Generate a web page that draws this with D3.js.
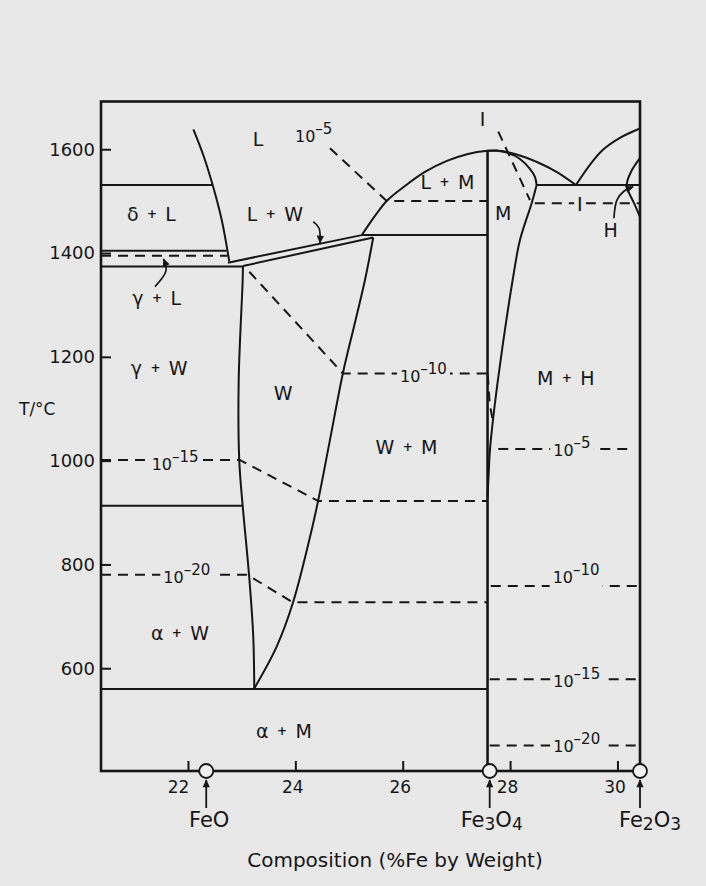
<!DOCTYPE html>
<html>
<head>
<meta charset="utf-8">
<script src="https://cdn.jsdelivr.net/npm/d3@7"></script>
<style>
  body { margin: 0; background: #e8e8e8; }
  svg { display: block; }
  text { font-family: "DejaVu Sans", "Liberation Sans", sans-serif; fill: #161616; }
</style>
</head>
<body>
<svg id="chart" width="706" height="886"></svg>
<script>
// axis ticks
var X_TICKS = [22, 24, 26, 28, 30]
var Y_TICKS = [600, 800, 1000, 1200, 1400, 1600]

// compounds marked under the axis (composition)
var COMPOUNDS = ["FeO", "Fe3O4", "Fe2O3"]
var COMPOUND_AT = [22.34, 27.62, 30.42]

// phase boundaries, [composition, T/°C]
var liquidusFeO = [[22.10, 1638.5], [22.285, 1589], [22.46, 1531], [22.628, 1464], [22.77, 1383.4]]
var deltaTop = [[20.38, 1531], [22.46, 1531]]
var gammaLTop = [[20.38, 1404.6], [22.72, 1404.6]]
var gammaLBottom = [[20.38, 1374], [23.024, 1374]]
var lwUpper = [[22.745, 1381.5], [25.259, 1435]]
var lwLower = [[23.024, 1375], [25.451, 1430]]
var wLeft = [[23.024, 1375], [23.019, 1348], [22.945, 1155.5], [22.955, 1001], [23.019, 913], [23.043, 886], [23.142, 774], [23.216, 661], [23.235, 561]]
var wRight = [[25.451, 1430], [25.297, 1348], [25.092, 1258], [24.887, 1169], [24.645, 1040], [24.427, 924], [24.304, 866.5], [23.961, 728], [23.652, 641.6], [23.235, 561]]
var gammaAlpha = [[20.38, 913], [23.019, 913]]
var eutectoid = [[20.38, 560], [27.58, 560]]
var wmTop = [[25.259, 1435], [27.58, 1435]]
var magnetite = [[27.58, 402], [27.58, 1597]]
var liquidusM = [[25.241, 1435], [25.483, 1471.5], [25.701, 1500.4], [26.042, 1529.3], [26.414, 1556.3], [26.824, 1577.5], [27.215, 1591], [27.58, 1597], [27.75, 1597.5], [28.09, 1591], [28.5, 1575.5], [28.873, 1556], [29.227, 1531]]
var liquidusH = [[29.227, 1531], [29.487, 1570], [29.73, 1599], [30.046, 1622], [30.419, 1640]]
var mSolidus = [[27.58, 1597], [27.75, 1597], [27.941, 1593.4], [28.184, 1581.3], [28.37, 1562], [28.463, 1546.6], [28.495, 1531]]
var mRight = [[28.495, 1531], [28.402, 1496], [28.184, 1425], [28.048, 1348], [27.904, 1252], [27.774, 1155.5], [27.681, 1078], [27.625, 1020.6], [27.597, 966.6], [27.58, 930]]
var mhTop = [[28.495, 1531], [30.419, 1531]]
var hLens = [[30.419, 1583], [30.27, 1560], [30.177, 1535], [30.195, 1521.6], [30.307, 1496.5], [30.419, 1469.6]]

// oxygen isobars (dashed)
var gammaLDash = [[20.38, 1395], [22.74, 1395]]
var iso5 = [[24.645, 1602], [25.701, 1500.4], [27.58, 1500.4]]
var isoOneTop = [[27.78, 1634], [28.37, 1502]]
var isoOneRight = [[28.46, 1496], [30.40, 1496]]
var iso10 = [[23.142, 1364], [24.887, 1168], [27.58, 1168]]
var iso10M = [[27.585, 1166], [27.62, 1110], [27.686, 1072]]
var iso15 = [[20.38, 1001], [22.97, 1001], [24.43, 922], [27.58, 922]]
var iso20 = [[20.38, 780], [23.09, 780], [23.25, 771], [23.95, 727], [27.58, 727]]
var isoR5 = [[27.78, 1022.5], [30.30, 1022.5]]
var isoR10 = [[27.64, 758.6], [30.39, 758.6]]
var isoR15 = [[27.62, 579], [30.39, 579]]
var isoR20 = [[27.62, 451], [30.39, 451]]

// isobar labels: exponent, position of "10" (left, baseline)
var ISO_EXP = ["5", "10", "15", "20", "5", "10", "15", "20"]
var ISO_AT = [[23.993, 1614], [25.949, 1152], [21.324, 982], [21.54, 764], [28.804, 1008], [28.793, 764], [28.804, 564.5], [28.804, 439.3]]

// phase field labels (centre)
var REGION_TEXT = ["L", "δ + L", "L + W", "L + M", "M", "γ + L", "γ + W", "W", "W + M", "M + H", "α + W", "α + M", "H"]
var REGION_AT = [[23.304, 1619], [21.32, 1476], [23.62, 1476], [26.833, 1536], [27.873, 1477], [21.417, 1313], [21.464, 1179], [23.775, 1130], [26.07, 1026], [29.037, 1159], [21.851, 667.5], [23.788, 479.6], [29.875, 1444.5]]

// "I" (1 atm) isobar labels
var ONE_AT = [[27.489, 1658], [29.301, 1494.2]]

// leader arrows
var lwArrow = [[24.334, 1460.5], [24.44, 1448.3], [24.459, 1419.4]]
var gammaArrow = [[21.385, 1335.3], [21.59, 1365.5], [21.544, 1388.6]]
var hArrow = [[29.934, 1467], [29.99, 1502], [30.12, 1519], [30.29, 1527.5]]

var BG = "#e8e8e8"
var INK = "#161616"

main()

function main() {
  var svg = d3.select("#chart")

  var x = d3.scaleLinear().domain([20.38, 30.42]).range([101, 640])
  var y = d3.scaleLinear().domain([402, 1692]).range([771, 101.5])

  svg.append("rect")
      .attr("width", 706)
      .attr("height", 886)
      .attr("fill", BG)

  svg.append("defs").append("marker")
      .attr("id", "head")
      .attr("viewBox", "0 0 10 10")
      .attr("refX", 9)
      .attr("refY", 5)
      .attr("markerWidth", 9)
      .attr("markerHeight", 8)
      .attr("markerUnits", "userSpaceOnUse")
      .attr("orient", "auto")
    .append("path")
      .attr("d", "M0,0.5 L10,5 L0,9.5 Z")
      .attr("fill", INK)

  var straight = d3.line().x(d => x(d[0])).y(d => y(d[1]))
  var smooth = d3.line().x(d => x(d[0])).y(d => y(d[1])).curve(d3.curveCatmullRom.alpha(0.5))

  var lines = svg.append("g").attr("fill", "none").attr("stroke", INK)

  function draw(points, gen, width, dashed) {
    var p = lines.append("path")
        .attr("d", gen(points))
        .attr("stroke-width", width)
        .attr("stroke-linejoin", "round")
    if (dashed) p.attr("stroke-dasharray", "10,7")
    return p
  }

  // dashed isobars first
  ;[gammaLDash, iso5, isoOneTop, isoOneRight, iso10, iso10M, iso15, iso20, isoR5, isoR10, isoR15, isoR20]
    .forEach(function(d) { draw(d, straight, 2, true) })

  // labels on the isobars, masked
  var labels = svg.append("g")

  function masked(t) {
    var b = t.node().getBBox()
    labels.insert("rect", function() { return t.node() })
        .attr("x", b.x - 3)
        .attr("y", b.y)
        .attr("width", b.width + 6)
        .attr("height", b.height)
        .attr("fill", BG)
  }

  ISO_EXP.forEach(function(e, i) {
    var t = labels.append("text")
        .attr("x", x(ISO_AT[i][0]))
        .attr("y", y(ISO_AT[i][1]))
        .attr("font-size", 16)
    t.append("tspan").text("10")
    t.append("tspan").attr("font-size", 15).attr("dy", -8).text("\u2013" + e)
    masked(t)
  })

  ONE_AT.forEach(function(p, i) {
    var t = labels.append("text")
        .attr("x", x(p[0]))
        .attr("y", y(p[1]))
        .attr("text-anchor", "middle")
        .attr("dominant-baseline", "central")
        .attr("font-size", 19)
        .text("I")
    if (i === 1) masked(t)
  })

  // solid phase boundaries
  ;[deltaTop, gammaLTop, gammaLBottom, lwUpper, lwLower, gammaAlpha, eutectoid, wmTop, mhTop]
    .forEach(function(d) { draw(d, straight, 2, false) })
  ;[liquidusFeO, wLeft, wRight, liquidusM, liquidusH, mSolidus, mRight, hLens]
    .forEach(function(d) { draw(d, smooth, 2, false) })
  draw(magnetite, straight, 2.6, false)

  // leader arrows
  ;[lwArrow, gammaArrow, hArrow].forEach(function(d) {
    draw(d, smooth, 1.7, false).attr("marker-end", "url(#head)")
  })

  // phase field labels
  REGION_TEXT.forEach(function(s, i) {
    var parts = s.split(" + ")
    var t = labels.append("text")
        .attr("x", x(REGION_AT[i][0]))
        .attr("y", y(REGION_AT[i][1]))
        .attr("text-anchor", "middle")
        .attr("dominant-baseline", "central")
        .attr("font-size", 19)
    t.append("tspan").text(parts[0])
    if (parts.length > 1) {
      t.append("tspan").attr("font-size", 12).attr("font-weight", "bold").text("\u00a0\u00a0+\u00a0\u00a0")
      t.append("tspan").text(parts[1])
    }
  })

  // axes
  svg.append("g")
      .attr("transform", "translate(" + x(x.domain()[0]) + ",0)")
      .call(d3.axisLeft(y).tickValues(Y_TICKS).tickFormat(d3.format("d"))
              .tickSizeInner(-10).tickSizeOuter(0).tickPadding(6))
      .call(g => g.select(".domain").remove())
      .call(g => g.selectAll("line").attr("stroke", INK).attr("stroke-width", 2))
      .call(g => g.selectAll("text").attr("font-size", 18).attr("fill", INK))

  svg.append("g")
      .attr("transform", "translate(0," + y(y.domain()[0]) + ")")
      .call(d3.axisBottom(x).tickValues(X_TICKS).tickFormat(d3.format("d"))
              .tickSizeInner(-10).tickSizeOuter(0).tickPadding(10))
      .call(g => g.select(".domain").remove())
      .call(g => g.selectAll("line").attr("stroke", INK).attr("stroke-width", 2))
      .call(g => g.selectAll("text").attr("font-size", 17).attr("fill", INK)
                   .attr("dx", d => d === 22 ? -10 : -3))

  // frame
  svg.append("rect")
      .attr("x", x.range()[0])
      .attr("y", y.range()[1])
      .attr("width", x.range()[1] - x.range()[0])
      .attr("height", y.range()[0] - y.range()[1])
      .attr("fill", "none")
      .attr("stroke", INK)
      .attr("stroke-width", 2.6)

  // compounds under the axis
  var base = y(y.domain()[0])
  var LABEL_DX = [3, 2, 10]
  COMPOUNDS.forEach(function(name, i) {
    var cx = x(COMPOUND_AT[i])
    svg.append("line")
        .attr("x1", cx).attr("x2", cx)
        .attr("y1", base + 37).attr("y2", base + 9)
        .attr("stroke", INK)
        .attr("stroke-width", 1.8)
        .attr("marker-end", "url(#head)")
    svg.append("circle")
        .attr("cx", cx)
        .attr("cy", base)
        .attr("r", 7)
        .attr("fill", "#f0f0f0")
        .attr("stroke", INK)
        .attr("stroke-width", 1.8)
    var t = svg.append("text")
        .attr("x", cx + LABEL_DX[i])
        .attr("y", base + 59)
        .attr("text-anchor", "middle")
        .attr("font-size", 21)
    name.split(/(\d)/).filter(s => s.length).forEach(function(s) {
      if (/\d/.test(s)) {
        t.append("tspan").attr("font-size", 17).attr("dy", 3).text(s)
      } else {
        t.append("tspan").attr("dy", t.selectAll("tspan").size() ? -3 : 0).text(s)
      }
    })
  })

  svg.append("text")
      .attr("x", 395)
      .attr("y", base + 96)
      .attr("text-anchor", "middle")
      .attr("font-size", 20)
      .text("Composition (%Fe by Weight)")

  svg.append("text")
      .attr("x", 19)
      .attr("y", y(1100))
      .attr("dominant-baseline", "central")
      .attr("font-size", 17)
      .text("T/\u00b0C")
}
</script>
</body>
</html>
